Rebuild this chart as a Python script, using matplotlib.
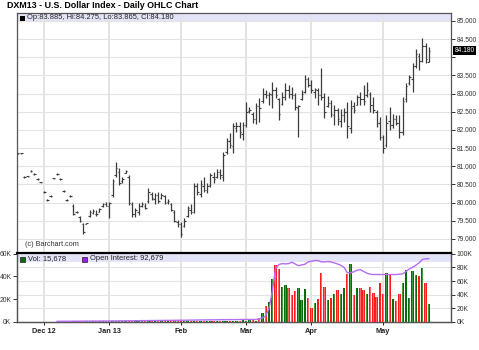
import numpy as np
import matplotlib
matplotlib.use("Agg")
import matplotlib.pyplot as plt
from matplotlib.patches import Rectangle

plt.rcParams['font.family'] = ['Liberation Sans', 'DejaVu Sans']

# ---------------- data ----------------
title = "DXM13 - U.S. Dollar Index - Daily OHLC Chart"
month_ticks = [8, 28, 50, 70, 90, 112]
month_labels = ['Dec 12', 'Jan 13', 'Feb', 'Mar', 'Apr', 'May']

opens = [
    81.36, 81.36, 80.70, 80.72, 80.87, 80.79, 80.65, 80.56, 80.29, 80.07,
    80.18, 80.67, 80.79, 80.65, 80.32, 80.07, 80.18, 79.90, 79.75, 79.60,
    79.40, 79.41, 79.62, 79.72, 79.70, 79.75, 79.90, 79.95, 79.90, 80.20,
    80.75, 80.85, 80.60, 80.82, 80.70, 79.95, 79.70, 79.75, 79.92, 79.90,
    80.05, 80.25, 80.10, 80.20, 80.12, 80.18, 80.02, 79.95, 79.75, 79.48,
    79.40, 79.35, 79.62, 79.80, 79.75, 80.45, 80.25, 80.45, 80.35, 80.48,
    80.70, 80.70, 80.85, 80.70, 81.40, 81.70, 81.55, 82.05, 82.10, 81.90,
    82.15, 82.52, 82.45, 82.30, 82.65, 82.80, 83.00, 82.95, 82.95, 83.10,
    82.85, 82.72, 82.90, 83.10, 83.00, 82.95, 82.60, 82.85, 83.05, 83.40,
    83.25, 83.05, 83.10, 82.95, 82.90, 82.65, 82.75, 82.40, 82.55, 82.25,
    82.40, 82.50, 82.05, 82.65, 82.70, 82.90, 82.85, 82.95, 83.00, 82.70,
    82.50, 82.20, 81.80, 81.60, 82.25, 82.15, 82.30, 82.20, 81.95, 82.85,
    83.30, 83.40, 83.75, 84.05, 83.90, 84.30, 83.885]
highs = [
    81.38, 81.38, 80.72, 80.74, 80.89, 80.81, 80.67, 80.58, 80.31, 80.09,
    80.20, 80.69, 80.81, 80.67, 80.34, 80.09, 80.20, 79.96, 79.76, 79.63,
    79.44, 79.44, 79.79, 79.82, 79.79, 79.85, 79.99, 80.01, 80.01, 80.65,
    81.12, 80.95, 80.70, 80.90, 80.76, 80.01, 79.85, 79.99, 80.01, 79.99,
    80.40, 80.29, 80.26, 80.29, 80.26, 80.21, 80.10, 79.99, 79.79, 79.52,
    79.46, 79.57, 79.90, 79.96, 80.54, 80.54, 80.62, 80.70, 80.54, 80.81,
    80.84, 80.92, 80.92, 81.39, 81.78, 81.91, 82.19, 82.22, 82.22, 82.22,
    82.77, 82.63, 82.49, 82.74, 82.88, 83.15, 83.10, 83.04, 83.32, 83.18,
    82.88, 83.04, 83.29, 83.24, 83.18, 83.02, 82.69, 83.10, 83.51, 83.46,
    83.37, 83.15, 83.15, 83.70, 83.03, 82.93, 82.82, 82.69, 82.60, 82.58,
    82.60, 82.77, 82.82, 82.77, 82.96, 83.04, 83.24, 83.32, 83.04, 82.91,
    82.55, 82.36, 81.86, 82.41, 82.63, 82.44, 82.41, 82.41, 82.91, 83.29,
    83.51, 83.84, 84.23, 84.12, 84.53, 84.39, 84.275]
lows = [
    81.34, 81.34, 80.68, 80.70, 80.85, 80.77, 80.63, 80.54, 80.27, 80.05,
    80.16, 80.65, 80.77, 80.63, 80.30, 80.05, 80.16, 79.66, 79.72, 79.46,
    79.13, 79.40, 79.60, 79.68, 79.63, 79.74, 79.88, 79.90, 79.57, 80.15,
    80.70, 80.48, 80.54, 80.81, 79.93, 79.60, 79.60, 79.66, 79.88, 79.82,
    79.99, 80.07, 79.96, 79.99, 80.10, 79.96, 79.96, 79.77, 79.46, 79.33,
    79.05, 79.33, 79.60, 79.68, 79.71, 80.21, 80.15, 80.29, 80.26, 80.43,
    80.54, 80.68, 80.65, 80.60, 81.33, 81.50, 81.36, 81.94, 81.78, 81.72,
    82.08, 82.47, 82.19, 82.16, 82.22, 82.74, 82.88, 82.69, 82.60, 82.88,
    82.27, 82.69, 82.82, 82.88, 82.85, 82.55, 81.80, 82.82, 83.02, 83.18,
    83.02, 82.88, 82.69, 82.82, 82.33, 82.62, 82.36, 82.13, 82.13, 82.08,
    82.22, 81.78, 81.91, 82.47, 82.69, 82.69, 82.69, 82.91, 82.49, 82.47,
    82.08, 81.72, 81.36, 81.53, 82.00, 82.05, 82.13, 81.78, 81.86, 82.77,
    83.24, 83.04, 83.71, 83.65, 83.87, 83.84, 83.865]
closes = [
    81.36, 81.36, 80.70, 80.72, 80.87, 80.79, 80.65, 80.56, 80.29, 80.07,
    80.18, 80.67, 80.79, 80.65, 80.32, 80.07, 80.18, 79.70, 79.73, 79.50,
    79.20, 79.43, 79.75, 79.78, 79.68, 79.82, 79.96, 79.92, 79.98, 80.60,
    80.95, 80.55, 80.65, 80.86, 80.00, 79.70, 79.80, 79.92, 79.95, 79.85,
    80.30, 80.12, 80.20, 80.05, 80.22, 80.00, 80.05, 79.80, 79.50, 79.40,
    79.15, 79.50, 79.85, 79.75, 80.45, 80.30, 80.50, 80.35, 80.45, 80.75,
    80.65, 80.85, 80.75, 81.30, 81.70, 81.60, 82.10, 82.10, 81.95, 82.15,
    82.50, 82.55, 82.30, 82.65, 82.60, 83.00, 82.95, 82.98, 83.10, 82.95,
    82.45, 82.90, 83.10, 83.00, 82.95, 82.62, 82.65, 83.00, 83.40, 83.25,
    83.10, 83.12, 82.95, 82.90, 82.50, 82.75, 82.45, 82.55, 82.30, 82.40,
    82.50, 82.10, 82.60, 82.55, 82.90, 82.85, 82.80, 83.10, 82.70, 82.55,
    82.20, 81.80, 81.50, 82.20, 82.15, 82.30, 82.20, 81.95, 82.80, 83.20,
    83.45, 83.75, 84.10, 83.90, 84.30, 83.95, 84.18]
volume_k = [
    0, 0, 0, 0, 0, 0, 0, 0, 0, 0,
    0, 0, 0, 0.6, 0.8, 0.5, 0.7, 0.9, 0.6, 0.8,
    0.7, 0.5, 0.6, 0.8, 0.6, 0.7, 0.5, 0.6, 0.9, 0.8,
    1.0, 0.7, 0.6, 0.5, 0.8, 0.9, 0.6, 0.7, 0.5, 0.6,
    0.8, 0.6, 0.7, 0.5, 0.6, 0.7, 0.5, 0.8, 0.9, 0.7,
    1.0, 0.8, 0.7, 0.6, 0.9, 0.8, 0.7, 0.8, 0.6, 0.9,
    0.8, 0.9, 1.0, 1.2, 1.1, 1.0, 1.3, 1.1, 1.2, 1.4,
    1.3, 1.5, 1.7, 1.3, 3.2, 7.5, 13.9, 17.7, 37.4, 49.6,
    46.7, 30.7, 32.8, 30.2, 23.5, 27.0, 29.9, 19.1, 28.7, 21.2,
    12.5, 16.8, 20.0, 43.2, 30.7, 19.1, 21.4, 24.3, 28.4, 24.9,
    29.9, 41.7, 51.0, 24.1, 29.9, 29.6, 28.1, 24.3, 30.4, 25.2,
    22.3, 34.2, 24.3, 42.9, 41.7, 20.0, 18.6, 24.9, 34.2, 45.2,
    21.4, 44.3, 40.9, 40.3, 47.2, 34.2, 15.678]
open_interest_k = [
    np.nan, np.nan, np.nan, np.nan, np.nan, np.nan, np.nan, np.nan, np.nan, np.nan,
    np.nan, np.nan, 1.0, 1.0, 1.1, 1.1, 1.1, 1.2, 1.2, 1.2,
    1.3, 1.3, 1.3, 1.4, 1.4, 1.4, 1.5, 1.5, 1.5, 1.6,
    1.6, 1.7, 1.7, 1.7, 1.8, 1.8, 1.9, 1.9, 2.0, 2.0,
    2.1, 2.1, 2.2, 2.2, 2.3, 2.3, 2.4, 2.4, 2.5, 2.5,
    2.6, 2.6, 2.7, 2.8, 2.8, 2.9, 3.0, 3.0, 3.1, 3.2,
    3.2, 3.3, 3.3, 3.4, 3.4, 3.5, 3.5, 3.6, 3.6, 3.7,
    3.7, 3.7, 3.7, 3.8, 4.5, 6.0, 9.0, 20.0, 45.0, 78.0,
    84.0, 85.5, 85.0, 85.5, 87.5, 85.0, 82.5, 83.5, 84.5, 88.0,
    89.0, 90.0, 90.0, 88.0, 88.0, 88.5, 88.0, 86.5, 85.0, 83.0,
    80.0, 72.0, 72.0, 73.5, 76.0, 76.5, 74.0, 71.5, 70.0, 69.5,
    69.5, 69.5, 69.5, 69.5, 69.5, 69.5, 69.5, 70.0, 70.5, 74.0,
    77.5, 80.0, 83.0, 86.5, 91.5, 92.5, 92.679]

price_ticks = [79.0, 79.5, 80.0, 80.5, 81.0, 81.5, 82.0, 82.5, 83.0, 83.5, 84.0, 84.5, 85.0]
vol_ticks = [0, 20, 40, 60]
oi_ticks = [0, 20, 40, 60, 80, 100]

legend_price = "Op:83.885, Hi:84.275, Lo:83.865, Cl:84.180"
legend_vol = "Vol: 15,678"
legend_oi = "Open Interest: 92,679"
last_close_label = "84.180"

# ---------------- figure ----------------
W, H = 479, 350
fig = plt.figure(figsize=(W / 100, H / 100), dpi=100)
fig.patch.set_facecolor('white')

def fx(x):
    return x / W

def fy(y):
    return 1 - y / H

L, R = 17, 451
P_TOP, P_BOT = 13, 253
V_BOT = 322

ax = fig.add_axes([fx(L), fy(P_BOT), fx(R - L), (P_BOT - P_TOP) / H])
axo = fig.add_axes([fx(L), fy(V_BOT), fx(R - L), (V_BOT - P_BOT) / H], sharex=ax)
axv = fig.add_axes([fx(L), fy(V_BOT), fx(R - L), (V_BOT - P_BOT) / H], sharex=ax)
axv.patch.set_alpha(0)

n = len(closes)
x = np.arange(n)
o = np.array(opens); h = np.array(highs); l = np.array(lows); c = np.array(closes)

grid_c = '#e3e3e3'
spine_c = '#555555'

# ---- price panel ----
ax.set_xlim(-0.3, 132.8)
ax.set_ylim(78.614, 85.22)
ax.add_patch(Rectangle((0, 1 - 9 / 240), 1, 9 / 240, transform=ax.transAxes,
                       facecolor='#e4e4f8', edgecolor='none', zorder=0.5))
for t in price_ticks:
    ax.axhline(t, color=grid_c, lw=0.8, zorder=0.6)
for t in month_ticks:
    ax.axvline(t, color=grid_c, lw=1.4, zorder=0.6)

bar_c = '#3c3c3c'
ax.vlines(x, l, h, color=bar_c, lw=0.9, zorder=3)
ax.hlines(o, x - 0.45, x, color=bar_c, lw=0.8, zorder=3)
ax.hlines(c, x, x + 0.45, color=bar_c, lw=0.8, zorder=3)

ax.yaxis.tick_right()
ax.set_yticks(price_ticks)
ax.set_yticklabels(['' if abs(t - 84.0) < 1e-9 else f"{t:.3f}" for t in price_ticks])
ax.tick_params(axis='y', direction='out', length=3, width=0.7, colors='#333333',
               labelsize=4.8, pad=1.2)
ax.tick_params(axis='x', length=0, labelbottom=False)
ax.set_xticks(month_ticks)
for s in ['left', 'right', 'top']:
    ax.spines[s].set_color(spine_c)
    ax.spines[s].set_linewidth(0.9)
ax.spines['bottom'].set_visible(False)

ax.annotate(last_close_label, xy=(1.0, c[-1]), xycoords=('axes fraction', 'data'),
            xytext=(2.5, 0), textcoords='offset points', va='center', ha='left',
            fontsize=4.8, color='white',
            bbox=dict(boxstyle='square,pad=0.15', facecolor='black', edgecolor='none'),
            zorder=10, annotation_clip=False)

ax.text((25 - L) / (R - L), (P_BOT - 244) / (P_BOT - P_TOP), "(c) Barchart.com",
        transform=ax.transAxes, fontsize=5.2, color='#333333', va='center', ha='left')

# price legend
fig.patches.append(Rectangle((fx(20), fy(20.5)), fx(5), 5 / H, transform=fig.transFigure,
                             facecolor='black', edgecolor='none', zorder=5))
fig.text(fx(27), fy(17.8), legend_price, fontsize=5.4, color='#222222', va='center', ha='left')

# title
fig.text(fx(7), fy(6), title, fontsize=6.4, fontweight='bold', color='black',
         va='center', ha='left')

# ---- volume / open interest panel ----
axo.set_ylim(0, 101)
axv.set_ylim(0, 60.5)
axo.add_patch(Rectangle((0, 1 - 9 / 69), 1, 9 / 69, transform=axo.transAxes,
                        facecolor='#e4e4f8', edgecolor='none', zorder=0.5))
for t in oi_ticks[1:-1]:
    axo.axhline(t, color=grid_c, lw=0.8, zorder=0.6)
for t in month_ticks:
    axo.axvline(t, color=grid_c, lw=1.4, zorder=0.6)

vol = np.array(volume_k)
up = np.concatenate([[True], c[1:] >= c[:-1]])
colors = np.where(up, '#0b6a0b', '#ff1c1c')
axv.bar(x, vol, width=0.72, color=colors, edgecolor='none', zorder=2)
# lighter inner stripe for the shaded look
inner = np.where(up, '#3f9a3f', '#ff6a6a')
axv.bar(x, vol, width=0.25, color=inner, edgecolor='none', zorder=2.1)

axv.plot(x, np.array(open_interest_k), color='#b36ef2', lw=1.0, zorder=4,
         transform=axo.transData)

axv.yaxis.tick_left()
axv.set_yticks(vol_ticks)
axv.set_yticklabels([f"{t}K" for t in vol_ticks])
axv.tick_params(axis='y', direction='out', length=3, width=0.7, colors='#333333',
                labelsize=4.9, pad=1)
axo.yaxis.tick_right()
axo.set_yticks(oi_ticks)
axo.set_yticklabels([f"{t}K" for t in oi_ticks])
axo.tick_params(axis='y', direction='out', length=3, width=0.7, colors='#333333',
                labelsize=4.9, pad=1.2)
axo.tick_params(axis='x', length=0, labelbottom=False)

axv.set_xticks(month_ticks)
axv.set_xticklabels(month_labels)
axv.tick_params(axis='x', direction='out', length=2, width=0.7, colors='#222222',
                labelsize=5.3, pad=2.5)
for lab in axv.get_xticklabels():
    lab.set_fontweight('bold')

for a in (axo, axv):
    for s in ['left', 'right', 'bottom']:
        a.spines[s].set_color(spine_c)
        a.spines[s].set_linewidth(0.9)
axo.spines['top'].set_visible(False)
axv.spines['top'].set_color('black')
axv.spines['top'].set_linewidth(1.6)

# volume legend
fig.patches.append(Rectangle((fx(20), fy(261.5)), fx(5), 5 / H, transform=fig.transFigure,
                             facecolor='#0b6a0b', edgecolor='black', linewidth=0.4, zorder=5))
fig.text(fx(28), fy(259), legend_vol, fontsize=5.4, color='#222222', va='center', ha='left')
fig.patches.append(Rectangle((fx(82), fy(261.5)), fx(5), 5 / H, transform=fig.transFigure,
                             facecolor='#9a1ee0', edgecolor='black', linewidth=0.4, zorder=5))
fig.text(fx(90), fy(259), legend_oi, fontsize=5.4, color='#222222', va='center', ha='left')

fig.savefig('out.png', dpi=100, facecolor='white')
